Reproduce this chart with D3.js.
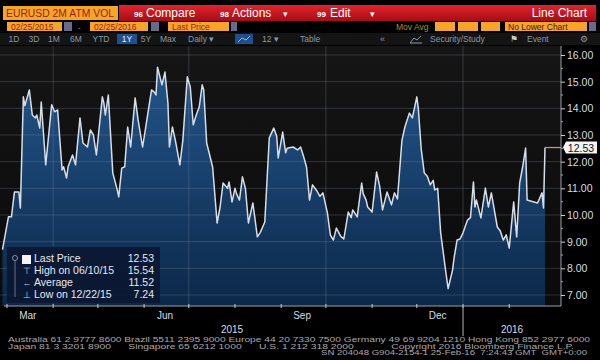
<!DOCTYPE html>
<html>
<head>
<meta charset="utf-8">
<script src="https://cdn.jsdelivr.net/npm/d3@7"></script>
<style>
  body { margin: 0; background: #000; }
  svg { display: block; font-family: "Liberation Sans", Arial, sans-serif; }
</style>
</head>
<body>
<div id="chart"></div>
<script>
// EURUSD 2M ATM implied vol, daily, 1Y window
const dates = [
    "2015-02-26",
    "2015-03-02", "2015-03-04", "2015-03-06", "2015-03-09", "2015-03-10", "2015-03-12", "2015-03-13", "2015-03-16", "2015-03-18", "2015-03-20", "2015-03-21", "2015-03-23", "2015-03-24", "2015-03-27", "2015-03-31",
    "2015-04-02", "2015-04-04", "2015-04-07", "2015-04-08", "2015-04-10", "2015-04-11", "2015-04-14", "2015-04-16", "2015-04-19", "2015-04-21", "2015-04-24", "2015-04-26", "2015-04-28", "2015-04-30",
    "2015-05-04", "2015-05-05", "2015-05-06", "2015-05-08", "2015-05-11", "2015-05-14", "2015-05-15", "2015-05-17", "2015-05-19", "2015-05-21", "2015-05-23", "2015-05-26", "2015-05-28", "2015-05-31",
    "2015-06-02", "2015-06-06", "2015-06-08", "2015-06-09", "2015-06-10", "2015-06-13", "2015-06-15", "2015-06-17", "2015-06-18", "2015-06-20", "2015-06-22", "2015-06-25", "2015-06-27", "2015-06-30",
    "2015-07-02", "2015-07-04", "2015-07-06", "2015-07-08", "2015-07-10", "2015-07-11", "2015-07-13", "2015-07-17", "2015-07-20", "2015-07-22", "2015-07-24", "2015-07-27", "2015-07-28", "2015-07-30",
    "2015-08-01", "2015-08-02", "2015-08-04", "2015-08-06", "2015-08-08", "2015-08-10", "2015-08-13", "2015-08-16", "2015-08-18", "2015-08-21", "2015-08-24", "2015-08-27", "2015-08-29", "2015-08-30",
    "2015-09-02", "2015-09-04", "2015-09-05", "2015-09-09", "2015-09-12", "2015-09-14", "2015-09-16", "2015-09-18", "2015-09-20", "2015-09-22", "2015-09-25", "2015-09-27", "2015-09-29",
    "2015-10-02", "2015-10-04", "2015-10-06", "2015-10-08", "2015-10-11", "2015-10-13", "2015-10-16", "2015-10-18", "2015-10-19", "2015-10-22", "2015-10-25", "2015-10-26", "2015-10-28", "2015-10-29",
    "2015-11-01", "2015-11-04", "2015-11-06", "2015-11-08", "2015-11-11", "2015-11-14", "2015-11-16", "2015-11-18", "2015-11-20", "2015-11-21", "2015-11-23", "2015-11-26", "2015-11-28",
    "2015-12-01", "2015-12-02", "2015-12-04", "2015-12-06", "2015-12-08", "2015-12-10", "2015-12-12", "2015-12-13", "2015-12-15", "2015-12-17", "2015-12-20", "2015-12-22", "2015-12-25", "2015-12-26", "2015-12-28", "2015-12-30",
    "2016-01-01", "2016-01-04", "2016-01-06", "2016-01-08", "2016-01-09", "2016-01-10", "2016-01-13", "2016-01-16", "2016-01-18", "2016-01-20", "2016-01-24", "2016-01-26", "2016-01-28", "2016-01-30",
    "2016-02-01", "2016-02-04", "2016-02-06", "2016-02-08", "2016-02-10", "2016-02-12", "2016-02-13", "2016-02-17", "2016-02-20", "2016-02-23", "2016-02-24", "2016-02-25"
];
const vols = [
    8.7,
    9.93, 9.93, 10.86, 10.86, 10.26, 14.43, 14.1, 14.69, 13.75, 13.64, 13.75, 13.26, 14.24, 11.88, 14.13,
    13.87, 13.94, 11.69, 11.81, 11.39, 11.81, 12.25, 11.88, 13.64, 12.70, 12.55, 13.19, 13.0, 12.25,
    14.43, 14.2, 13.75, 14.5, 11.58, 10.94, 10.68, 11.76, 11.81, 13.30, 12.55, 14.39, 13.56, 12.55,
    13.26, 14.69, 14.6, 14.5, 15.54, 14.88, 15.36, 14.2, 12.55, 13.3, 12.8, 11.88, 12.8, 15.18,
    14.8, 13.38, 13.75, 14.05, 14.88, 14.7, 12.7, 11.8, 9.70, 10.3, 11.2, 11.0, 11.24, 10.49,
    11.0, 10.8, 10.56, 11.43, 11.0, 9.70, 10.45, 9.18, 9.35, 9.74, 12.89, 13.26, 12.95, 12.14,
    13.11, 12.33, 12.5, 12.55, 12.44, 12.55, 12.2, 11.8, 10.56, 11.13, 10.9, 10.7, 10.83,
    10.08, 9.25, 9.06, 9.51, 9.2, 9.1, 10.11, 9.9, 10.19, 9.93, 11.2, 10.8, 10.56, 10.3,
    10.11, 11.61, 11.1, 10.19, 10.86, 10.38, 10.83, 10.6, 12.06, 12.8, 13.3, 13.82, 13.64,
    14.43, 14.0, 12.44, 11.58, 11.45, 11.13, 11.3, 10.94, 11.0, 9.33, 8.05, 7.24, 7.94, 8.39, 9.06, 9.1,
    9.33, 9.81, 9.9, 11.24, 10.3, 10.56, 9.89, 11.01, 10.30, 10.83, 9.55, 9.4, 9.06, 9.25,
    8.76, 10.49, 9.18, 11.2, 11.8, 12.51, 10.56, 10.5, 10.45, 10.83, 10.26, 12.53
];
const yTicks = [7, 8, 9, 10, 11, 12, 13, 14, 15, 16];
const monthLabels = ["Mar", "Jun", "Sep", "Dec"];
const legendLabels = ["Last Price", "High on 06/10/15", "Average", "Low on 12/22/15"];
const legendValues = ["12.53", "15.54", "11.52", "7.24"];
const lastPrice = 12.53;
const rangeButtons = ["1D", "3D", "1M", "6M", "YTD", "1Y", "5Y", "Max"];
const footerLines = [
    "Australia 61 2 9777 8600 Brazil 5511 2395 9000 Europe 44 20 7330 7500 Germany 49 69 9204 1210 Hong Kong 852 2977 6000",
    "Japan 81 3 3201 8900      Singapore 65 6212 1000      U.S. 1 212 318 2000             Copyright 2016 Bloomberg Finance L.P.",
    "SN 204048 G904-2154-1 25-Feb-16  7:24:43 GMT  GMT+0:00"
];

const parse = d3.timeParse("%Y-%m-%d");
const data = dates.map((d, i) => ({ date: parse(d), v: vols[i] }));

const W = 600, H = 360;
const plotTop = 46, plotBottom = 306, plotRight = 561;

const svg = d3.select("#chart").append("svg")
    .attr("width", W).attr("height", H);

svg.append("rect").attr("width", W).attr("height", H).attr("fill", "#000");

const defs = svg.append("defs");
const areaGrad = defs.append("linearGradient").attr("id", "areaGrad")
    .attr("gradientUnits", "userSpaceOnUse")
    .attr("x1", 0).attr("y1", 60).attr("x2", 0).attr("y2", plotBottom);
areaGrad.append("stop").attr("offset", 0).attr("stop-color", "#23568c");
areaGrad.append("stop").attr("offset", 1).attr("stop-color", "#0c2849");
const bgGrad = defs.append("linearGradient").attr("id", "bgGrad")
    .attr("x1", 0).attr("y1", 0).attr("x2", 0).attr("y2", 1);
bgGrad.append("stop").attr("offset", 0).attr("stop-color", "#151515");
bgGrad.append("stop").attr("offset", 1).attr("stop-color", "#0a0a0a");
defs.append("clipPath").attr("id", "plotClip").append("rect")
    .attr("x", 0).attr("y", plotTop).attr("width", plotRight).attr("height", plotBottom - plotTop);

// scales
const x = d3.scaleTime()
    .domain([new Date(2015, 1, 25), new Date(2016, 1, 25)])
    .range([1, 545]);
const y = d3.scaleLinear().domain([7, 16]).range([295, 55]);

// ---------- toolbar ----------
const orange = "#f7a52a", orangeText = "#9a1f0c";

function box(x0, y0, w, h, fill) {
    return svg.append("rect").attr("x", x0).attr("y", y0).attr("width", w).attr("height", h).attr("fill", fill);
}
function label(txt, x0, y0, opts) {
    opts = opts || {};
    return svg.append("text").attr("x", x0).attr("y", y0)
        .attr("fill", opts.fill || "#fff")
        .attr("font-size", opts.size || 10)
        .attr("font-weight", opts.weight || "normal")
        .attr("text-anchor", opts.anchor || "start")
        .text(txt);
}

const redGrad = defs.append("linearGradient").attr("id", "redGrad")
    .attr("x1", 0).attr("y1", 0).attr("x2", 0).attr("y2", 1);
redGrad.append("stop").attr("offset", 0).attr("stop-color", "#e3232c");
redGrad.append("stop").attr("offset", 1).attr("stop-color", "#a60d16");

box(3, 6, 115, 14, orange);
label("EURUSD 2M ATM VOL", 6, 17, { fill: orangeText, size: 10.5 })
    .attr("textLength", 108).attr("lengthAdjust", "spacingAndGlyphs");
box(119, 5, 477, 16, "url(#redGrad)");
label("96", 134, 17, { size: 8, weight: "bold" });
label("Compare", 146, 17, { size: 12 });
label("98", 220, 17, { size: 8, weight: "bold" });
label("Actions", 232, 17, { size: 12 });
label("▾", 283, 17, { size: 9 });
label("99", 317, 17, { size: 8, weight: "bold" });
label("Edit", 330, 17, { size: 12 });
label("▾", 370, 17, { size: 9 });
label("Line Chart", 587, 17, { size: 12, anchor: "end" });

// row 2
box(7, 22, 55, 9, orange);
label("02/25/2015", 11, 30, { fill: orangeText, size: 8.5 });
box(64, 22, 8, 9, "#6a6a8a");
label("-", 78, 30, { fill: "#aaa", size: 8 });
box(90, 22, 58, 9, orange);
label("02/25/2016", 94, 30, { fill: orangeText, size: 8.5 });
box(151, 22, 8, 9, "#6a6a8a");
box(168, 22, 61, 9, orange);
label("Last Price", 172, 30, { fill: orangeText, size: 8.5 });
box(231, 22, 6, 9, "#6a6a8a");
label("Mov Avg", 396, 30, { fill: "#b08a28", size: 8.5 });
box(435, 22, 20, 9, orange);
box(458, 22, 20, 9, orange);
box(481, 22, 19, 9, orange);
box(505, 22, 82, 9, orange);
label("No Lower Chart", 508, 30, { fill: "#3a1a00", size: 8.5 });
box(589, 22, 7, 9, "#6a6a8a");

// row 3
box(0, 33, W, 12, "#141414");
const btnX = [14, 34, 54, 76, 101, 127, 146, 168];
rangeButtons.forEach((b, i) => {
    if (b === "1Y") box(117, 34, 20, 10, "#1f4f8f");
    label(b, btnX[i], 42, { fill: b === "1Y" ? "#e8eef8" : "#8a98a8", size: 8.5, anchor: "middle" });
});
label("Daily ▾", 188, 42, { fill: "#8a98a8", size: 8.5 });
box(235, 34, 18, 10, "#1f4f8f");
svg.append("path").attr("d", "M238,42 L242,38 L246,40 L250,36").attr("fill", "none").attr("stroke", "#9ab8e0");
label("12 ▾", 262, 42, { fill: "#8a98a8", size: 8.5 });
label("Table", 300, 42, { fill: "#8a98a8", size: 8.5 });
label("«", 380, 42, { fill: "#8a98a8", size: 9 });
svg.append("path").attr("d", "M410,43 L414,38 L417,40 L421,36 M410,43 H422").attr("fill", "none").attr("stroke", "#8a98a8");
label("Security/Study", 430, 42, { fill: "#8a98a8", size: 8.5 });
label("⚑", 510, 42, { fill: "#c8ccd0", size: 9 });
label("Event", 527, 42, { fill: "#8a98a8", size: 8.5 });
label("⚙", 580, 42, { fill: "#8a98a8", size: 9 });

// ---------- plot ----------
svg.append("rect").attr("x", 0).attr("y", plotTop)
    .attr("width", plotRight).attr("height", plotBottom - plotTop)
    .attr("fill", "url(#bgGrad)");

const plot = svg.append("g").attr("clip-path", "url(#plotClip)");

const area = d3.area()
    .x(d => x(d.date))
    .y0(plotBottom)
    .y1(d => y(d.v));
plot.append("path").datum(data)
    .attr("d", area)
    .attr("fill", "url(#areaGrad)");

// gridlines drawn over the fill, faint
plot.selectAll(".hgrid").data(yTicks).enter().append("line")
    .attr("x1", 0).attr("x2", plotRight)
    .attr("y1", d => y(d)).attr("y2", d => y(d))
    .attr("stroke", "#8090a0").attr("stroke-opacity", 0.28).attr("stroke-width", 1);
const quarterStarts = [new Date(2015, 3, 1), new Date(2015, 6, 1), new Date(2015, 9, 1), new Date(2016, 0, 1)];
plot.selectAll(".vgrid").data(quarterStarts).enter().append("line")
    .attr("x1", d => x(d)).attr("x2", d => x(d))
    .attr("y1", plotTop).attr("y2", plotBottom)
    .attr("stroke", "#8090a0").attr("stroke-opacity", 0.3).attr("stroke-width", 1);

const line = d3.line().x(d => x(d.date)).y(d => y(d.v));
plot.append("path").datum(data)
    .attr("d", line)
    .attr("fill", "none")
    .attr("stroke", "#d8dee6")
    .attr("stroke-width", 1.5)
    .attr("stroke-linejoin", "round");

// last price extension to the axis
const last = data[data.length - 1];
svg.append("line")
    .attr("x1", x(last.date)).attr("x2", plotRight)
    .attr("y1", y(lastPrice)).attr("y2", y(lastPrice))
    .attr("stroke", "#c8955e").attr("stroke-width", 1.3);

// frame
svg.append("path")
    .attr("d", `M4,${plotBottom} H${plotRight} V${plotTop}`)
    .attr("fill", "none").attr("stroke", "#9aa0a8").attr("stroke-width", 1);

// y axis
const yAxis = d3.axisRight(y)
    .tickValues(yTicks)
    .tickFormat(d3.format(".2f"))
    .tickSize(4)
    .tickPadding(2);
const yg = svg.append("g").attr("transform", `translate(${plotRight},0)`).call(yAxis);
yg.select(".domain").remove();
yg.selectAll("line").attr("stroke", "#c8ccd0");
yg.selectAll("text").attr("fill", "#d8dce0").attr("font-size", 10.5)
    .attr("font-family", "Liberation Sans, Arial, sans-serif");
const minorTicks = d3.range(7.5, 16, 1);
svg.selectAll(".minor").data(minorTicks).enter().append("line")
    .attr("x1", plotRight).attr("x2", plotRight + 2)
    .attr("y1", d => y(d)).attr("y2", d => y(d))
    .attr("stroke", "#a0a4a8");

// last price tag
const ty = y(lastPrice);
svg.append("path")
    .attr("d", `M${plotRight + 2},${ty} L${plotRight + 5},${ty - 6} H597 V${ty + 6} H${plotRight + 5} Z`)
    .attr("fill", "#f4f4f4");
svg.append("text").attr("x", 581).attr("y", ty + 4)
    .attr("text-anchor", "middle").attr("font-size", 10.5).attr("fill", "#111")
    .text(d3.format(".2f")(lastPrice));

// x axis: monthly ticks, labels mid-month
const monthStarts = d3.timeMonth.range(new Date(2015, 2, 1), new Date(2016, 2, 1));
svg.selectAll(".xtick").data(monthStarts).enter().append("line")
    .attr("x1", d => x(d)).attr("x2", d => x(d))
    .attr("y1", plotBottom - 2).attr("y2", plotBottom + 2)
    .attr("stroke", "#c8ccd0");
const labelMonths = [new Date(2015, 2, 15), new Date(2015, 5, 15), new Date(2015, 8, 15), new Date(2015, 11, 15)];
svg.selectAll(".mlabel").data(labelMonths).enter().append("text")
    .attr("x", d => x(d)).attr("y", 319)
    .attr("text-anchor", "middle").attr("font-size", 10).attr("fill", "#d8dce0")
    .text((d, i) => monthLabels[i]);
const yearSplit = new Date(2016, 0, 1);
svg.append("line")
    .attr("x1", x(yearSplit)).attr("x2", x(yearSplit))
    .attr("y1", plotBottom).attr("y2", 336)
    .attr("stroke", "#b0b4b8");
svg.append("text").attr("x", (1 + x(yearSplit)) / 2).attr("y", 333)
    .attr("text-anchor", "middle").attr("font-size", 10).attr("fill", "#d8dce0").text("2015");
svg.append("text").attr("x", (x(yearSplit) + plotRight) / 2).attr("y", 333)
    .attr("text-anchor", "middle").attr("font-size", 10).attr("fill", "#d8dce0").text("2016");

// ---------- legend ----------
const lg = svg.append("g");
lg.append("rect").attr("x", 7).attr("y", 247).attr("width", 153).attr("height", 56)
    .attr("fill", "#0a1630").attr("fill-opacity", 0.88);
lg.append("line").attr("x1", 15).attr("x2", 15).attr("y1", 258).attr("y2", 297)
    .attr("stroke", "#6a7088");
lg.append("circle").attr("cx", 15).attr("cy", 258).attr("r", 2.5)
    .attr("fill", "#0a1630").attr("stroke", "#8a90a8");
const rowY = [262, 274, 286, 298];
lg.append("rect").attr("x", 22).attr("y", 255).attr("width", 9).attr("height", 9).attr("fill", "#f4f4f4");
lg.append("text").attr("x", 27).attr("y", rowY[1]).attr("text-anchor", "middle")
    .attr("font-size", 9).attr("fill", "#c0c8d8").text("⊤");
lg.append("text").attr("x", 27).attr("y", rowY[2]).attr("text-anchor", "middle")
    .attr("font-size", 9).attr("fill", "#c0c8d8").text("←");
lg.append("text").attr("x", 27).attr("y", rowY[3]).attr("text-anchor", "middle")
    .attr("font-size", 9).attr("fill", "#c0c8d8").text("⊥");
lg.selectAll(".ll").data(legendLabels).enter().append("text")
    .attr("x", 34).attr("y", (d, i) => rowY[i])
    .attr("font-size", 10.5).attr("fill", "#e6e8ee").text(d => d);
lg.selectAll(".lv").data(legendValues).enter().append("text")
    .attr("x", 154).attr("y", (d, i) => rowY[i]).attr("text-anchor", "end")
    .attr("font-size", 10.5).attr("fill", "#e6e8ee").text(d => d);

// ---------- footer ----------
svg.append("text").attr("x", 8).attr("y", 342).attr("font-size", 6.5).attr("fill", "#a8a8a8")
    .attr("textLength", 582).attr("lengthAdjust", "spacingAndGlyphs").text(footerLines[0]);
svg.append("text").attr("x", 8).attr("y", 348.5).attr("font-size", 6.5).attr("fill", "#a8a8a8")
    .attr("xml:space", "preserve")
    .attr("textLength", 566).attr("lengthAdjust", "spacingAndGlyphs").text(footerLines[1]);
svg.append("text").attr("x", 321).attr("y", 355).attr("font-size", 6.5).attr("fill", "#a8a8a8")
    .attr("xml:space", "preserve")
    .attr("textLength", 266).attr("lengthAdjust", "spacingAndGlyphs").text(footerLines[2]);
</script>
</body>
</html>
